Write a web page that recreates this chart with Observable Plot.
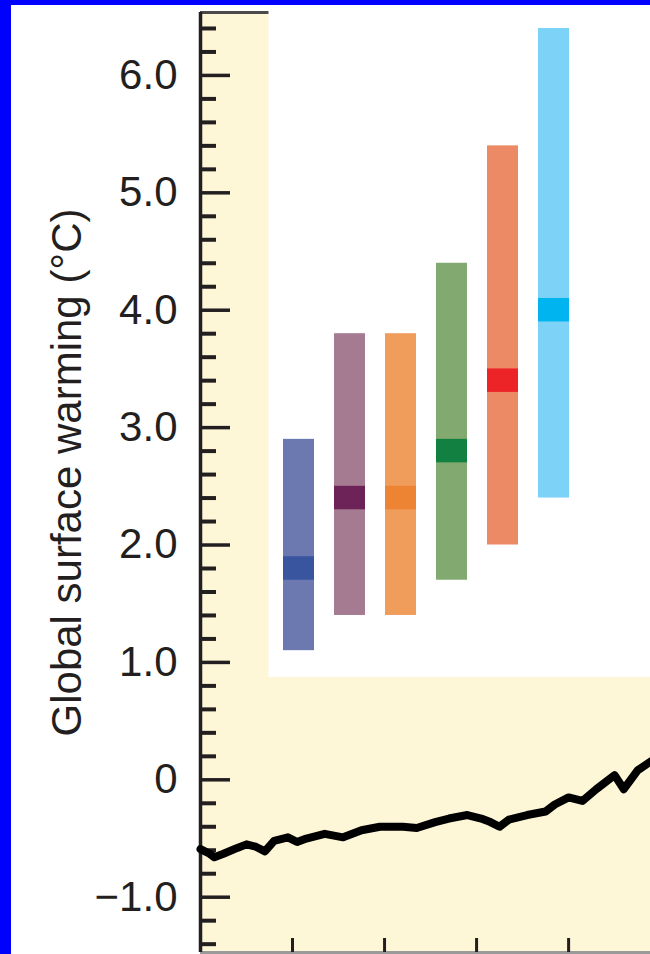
<!DOCTYPE html>
<html>
<head>
<meta charset="utf-8">
<script src="https://cdn.jsdelivr.net/npm/d3@7"></script>
<script src="https://cdn.jsdelivr.net/npm/@observablehq/plot@0.6"></script>
<style>
  html, body { margin: 0; padding: 0; background: #0000ff; width: 650px; height: 954px; overflow: hidden; }
  #wrap { position: absolute; left: 11px; top: 5px; width: 639px; height: 949px; background: #ffffff; overflow: hidden; }
  #wrap svg { position: absolute; left: 0; top: 0; }
  text { font-family: "Liberation Sans", Arial, Helvetica, sans-serif; }
</style>
</head>
<body>
<div id="wrap"></div>
<script>
// ---- Data ----
const scenarios = ["B1", "A1T", "B2", "A1B", "A2", "A1FI"];
const bestEstimate = [1.8, 2.4, 2.4, 2.8, 3.4, 4.0];
const likelyLow = [1.1, 1.4, 1.4, 1.7, 2.0, 2.4];
const likelyHigh = [2.9, 3.8, 3.8, 4.4, 5.4, 6.4];
const rangeColors = ["#6b79b0", "#a57b91", "#f09c5b", "#82a96f", "#ec8a65", "#7dd3f7"];
const bestColors = ["#3a55a0", "#6e2358", "#ec8433", "#118041", "#ec2427", "#00b5ef"];

const years = [1900, 1902, 1903, 1905, 1908, 1910, 1912, 1914, 1916, 1919, 1921, 1923, 1927, 1931, 1935, 1939, 1941, 1944, 1947, 1951, 1954, 1958, 1961, 1963, 1965, 1967, 1971, 1975, 1977, 1980, 1983, 1986, 1990, 1992, 1995, 1998];
const warming = [-0.59, -0.63, -0.66, -0.63, -0.58, -0.55, -0.57, -0.61, -0.52, -0.49, -0.53, -0.50, -0.46, -0.49, -0.43, -0.40, -0.40, -0.40, -0.41, -0.36, -0.33, -0.30, -0.33, -0.36, -0.40, -0.34, -0.30, -0.27, -0.21, -0.15, -0.18, -0.08, 0.04, -0.08, 0.08, 0.16];

const majorTicks = [-1, 0, 1, 2, 3, 4, 5, 6];
const minorTicks = [-1.4, -1.2, -0.8, -0.6, -0.4, -0.2, 0.2, 0.4, 0.6, 0.8, 1.2, 1.4, 1.6, 1.8, 2.2, 2.4, 2.6, 2.8, 3.2, 3.4, 3.6, 3.8, 4.2, 4.4, 4.6, 4.8, 5.2, 5.4, 5.6, 5.8, 6.2, 6.4];
const yearTicks = [1920, 1940, 1960, 1980];
const yLabel = "Global surface warming (°C)";

// ---- Layout ----
const W = 639, H = 949;
const mL = 189, mT = 7, mB = 2, mR = 0;
const yMin = -1.471, yMax = 6.536;
const xDomain = [1900, 1997.8];
const insetFloor = 0.87; // bottom of the white inset panel (in °C)
const ink = "#231f20";
const cream = "#fdf6d7";
const font = "'Liberation Sans', Arial, Helvetica, sans-serif";

const innerW = W - mL - mR, innerH = H - mT - mB;
const k = innerH / (yMax - yMin);

const series = years.map((y, i) => ({year: y, value: warming[i]}));
const bars = scenarios.map((s, i) => ({
  scenario: s, best: bestEstimate[i], low: likelyLow[i], high: likelyHigh[i],
  light: rangeColors[i], dark: bestColors[i]
}));

const base = Plot.plot({
  width: W, height: H,
  marginLeft: mL, marginRight: mR, marginTop: mT, marginBottom: mB,
  style: {fontFamily: font, background: "transparent", overflow: "visible"},
  x: {domain: xDomain, axis: null},
  y: {domain: [yMin, yMax], axis: null},
  marks: [
    Plot.frame({fill: cream, stroke: null}),
    Plot.ruleY([yMax], {stroke: "#4a4a4a", strokeWidth: 3}),
    Plot.ruleY([yMin], {stroke: "#9a9a9a", strokeWidth: 3}),
    Plot.tickY(minorTicks, {y: d => d, stroke: ink, strokeWidth: 4, insetRight: innerW - 16}),
    Plot.tickY(majorTicks, {y: d => d, stroke: ink, strokeWidth: 3.5, insetRight: innerW - 30}),
    Plot.tickX(yearTicks, {x: d => d, stroke: ink, strokeWidth: 3, insetTop: innerH - 14}),
    Plot.ruleX([xDomain[0]], {stroke: ink, strokeWidth: 3.5}),
    Plot.line(series, {x: "year", y: "value", stroke: "#000", strokeWidth: 8, strokeLinejoin: "round", strokeLinecap: "round"}),
    Plot.axisY({
      ticks: majorTicks, tickSize: 0, tickPadding: 23, fontSize: 42, color: ink,
      tickFormat: d => d === 0 ? "0" : (d < 0 ? "\u2212" + Math.abs(d).toFixed(1) : d.toFixed(1)),
      label: null
    }),
    Plot.text([yLabel], {frameAnchor: "left", text: d => d, rotate: -90, dx: -133, dy: -10, fontSize: 42, fill: ink, textAnchor: "middle", lineAnchor: "middle"})
  ]
});

const topVal = yMax + mT / k;
const overlayH = (topVal - insetFloor) * k;
const overlay = Plot.plot({
  width: W, height: overlayH,
  marginLeft: 257, marginRight: 0, marginTop: 0, marginBottom: 0,
  style: {fontFamily: font, background: "transparent"},
  x: {type: "band", domain: scenarios, range: [271, 558.5], paddingInner: 0.39, paddingOuter: 0, axis: null},
  y: {domain: [insetFloor, topVal], axis: null},
  color: {type: "identity"},
  marks: [
    Plot.frame({fill: "#ffffff", stroke: null}),
    Plot.barY(bars, {x: "scenario", y1: "low", y2: "high", fill: "light"}),
    Plot.barY(bars, {x: "scenario", y1: d => d.best - 0.1, y2: d => d.best + 0.1, fill: "dark"})
  ]
});

const wrap = document.getElementById("wrap");
wrap.appendChild(base);
wrap.appendChild(overlay);
</script>
</body>
</html>
